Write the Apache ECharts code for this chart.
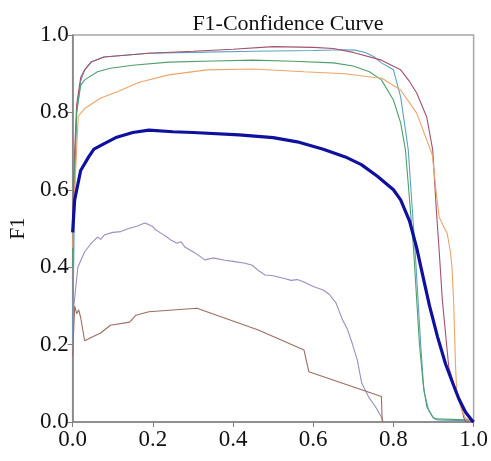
<!DOCTYPE html>
<html><head><meta charset="utf-8">
<script src="https://cdn.jsdelivr.net/npm/echarts@6/dist/echarts.min.js"></script>
<style>html,body{margin:0;padding:0;background:#fff}#c{width:491px;height:461px}</style>
</head><body><div id="c"></div>
<script>
const xTicks = [0, 0.2, 0.4, 0.6, 0.8, 1.0];
const yTicks = [0, 0.2, 0.4, 0.6, 0.8, 1.0];
const names = ['cyan', 'maroon', 'green', 'orange', 'purple', 'brown', 'all classes'];
const colors = ['#5aa2c2', '#a5506c', '#4f9f6c', '#eea468', '#9c8cc0', '#9c6c62', '#10109e'];
const cyanPts = [[0,0.2],[0.005,0.6],[0.01,0.8],[0.02,0.88],[0.03,0.91],[0.046,0.93],[0.078,0.943],[0.19,0.953],[0.3,0.955],[0.45,0.958],[0.6,0.96],[0.68,0.962],[0.705,0.961],[0.73,0.955],[0.753,0.943],[0.77,0.928],[0.8,0.91],[0.818,0.84],[0.83,0.754],[0.837,0.703],[0.854,0.444],[0.868,0.2],[0.876,0.08],[0.888,0.03],[0.9,0.01],[0.91,0.005],[1.0,0.003]];
const maroonPts = [[0,0.5],[0.005,0.7],[0.01,0.82],[0.02,0.89],[0.03,0.91],[0.046,0.93],[0.078,0.943],[0.19,0.953],[0.3,0.958],[0.4,0.963],[0.5,0.97],[0.6,0.968],[0.65,0.965],[0.7,0.955],[0.77,0.935],[0.818,0.91],[0.84,0.88],[0.858,0.85],[0.883,0.788],[0.898,0.703],[0.907,0.548],[0.914,0.444],[0.922,0.315],[0.938,0.142],[0.955,0.083],[0.967,0.057],[0.975,0.013],[0.98,0],[1.0,0]];
const greenPts = [[0,0.4],[0.005,0.65],[0.01,0.8],[0.02,0.87],[0.03,0.884],[0.062,0.905],[0.094,0.914],[0.15,0.922],[0.24,0.93],[0.35,0.933],[0.45,0.935],[0.55,0.932],[0.65,0.928],[0.7,0.92],[0.74,0.905],[0.77,0.884],[0.8,0.832],[0.818,0.773],[0.83,0.703],[0.85,0.45],[0.865,0.2],[0.874,0.1],[0.883,0.04],[0.898,0.013],[0.906,0.008],[1.0,0.005]];
const orangePts = [[0,0.45],[0.005,0.6],[0.014,0.79],[0.03,0.81],[0.07,0.837],[0.11,0.853],[0.166,0.878],[0.24,0.897],[0.335,0.91],[0.45,0.912],[0.577,0.905],[0.68,0.9],[0.753,0.89],[0.77,0.889],[0.818,0.858],[0.858,0.798],[0.883,0.729],[0.897,0.69],[0.906,0.6],[0.914,0.53],[0.925,0.505],[0.934,0.488],[0.942,0.44],[0.946,0.4],[0.95,0.315],[0.955,0.142],[0.958,0.075],[0.97,0.031],[0.98,0.01],[1.0,0]];
const purplePts = [[0,0.17],[0.003,0.3],[0.013,0.4],[0.03,0.44],[0.045,0.46],[0.062,0.478],[0.07,0.472],[0.08,0.484],[0.1,0.49],[0.12,0.492],[0.14,0.5],[0.16,0.506],[0.18,0.514],[0.19,0.51],[0.2,0.505],[0.205,0.498],[0.22,0.488],[0.235,0.478],[0.245,0.47],[0.26,0.462],[0.27,0.466],[0.28,0.452],[0.3,0.44],[0.315,0.43],[0.33,0.419],[0.35,0.424],[0.38,0.418],[0.4,0.415],[0.43,0.41],[0.448,0.405],[0.465,0.39],[0.48,0.38],[0.5,0.378],[0.53,0.37],[0.545,0.366],[0.56,0.368],[0.577,0.362],[0.6,0.35],[0.625,0.341],[0.64,0.33],[0.657,0.307],[0.673,0.264],[0.685,0.24],[0.697,0.204],[0.71,0.16],[0.721,0.1],[0.738,0.065],[0.755,0.04],[0.77,0.013],[0.775,0]];
const brownPts = [[0,0.17],[0.005,0.3],[0.01,0.28],[0.015,0.29],[0.02,0.27],[0.03,0.21],[0.05,0.22],[0.07,0.23],[0.094,0.25],[0.142,0.258],[0.158,0.276],[0.19,0.285],[0.31,0.294],[0.463,0.238],[0.577,0.186],[0.589,0.13],[0.77,0.066],[0.772,0]];
const allPts = [[0,0.49],[0.005,0.574],[0.02,0.65],[0.04,0.685],[0.053,0.705],[0.08,0.72],[0.11,0.736],[0.15,0.748],[0.19,0.754],[0.25,0.75],[0.3,0.748],[0.415,0.742],[0.5,0.735],[0.56,0.724],[0.625,0.705],[0.68,0.685],[0.72,0.665],[0.76,0.635],[0.8,0.6],[0.818,0.574],[0.84,0.52],[0.858,0.45],[0.875,0.37],[0.89,0.3],[0.91,0.22],[0.93,0.15],[0.95,0.095],[0.963,0.06],[0.98,0.025],[0.995,0.005],[1.0,0]];

const seriesPts = [cyanPts, maroonPts, greenPts, orangePts, purplePts, brownPts, allPts];
const font = 'Liberation Serif, Times New Roman, serif';
const chart = echarts.init(document.getElementById('c'), null, {renderer: 'canvas'});
chart.setOption({
  animation: false,
  backgroundColor: '#fff',
  title: {text: 'F1-Confidence Curve', left: 283, top: 8, textAlign: 'center',
    textStyle: {fontFamily: font, fontSize: 22, fontWeight: 'normal', color: '#111'}},
  grid: {left: 61, right: 16, top: 35, bottom: 39, show: true, borderColor: '#a8a8a8', borderWidth: 1.5},
  xAxis: {type: 'value', min: 0, max: 1, interval: 0.2,
    axisLine: {show: true, lineStyle: {color: '#808080', width: 1.5}},
    axisTick: {show: true, length: 5, lineStyle: {color: '#808080'}},
    splitLine: {show: false},
    axisLabel: {fontFamily: font, fontSize: 23, color: '#111', margin: 6,
      formatter: v => v.toFixed(1)}},
  yAxis: {type: 'value', min: 0, max: 1, interval: 0.2, name: 'F1', nameLocation: 'middle', nameGap: 35,
    nameTextStyle: {fontFamily: font, fontSize: 21, color: '#111'},
    axisLine: {show: true, lineStyle: {color: '#808080', width: 1.5}},
    axisTick: {show: true, length: 5, lineStyle: {color: '#808080'}},
    splitLine: {show: false},
    axisLabel: {fontFamily: font, fontSize: 23, color: '#111', margin: 4,
      formatter: v => v.toFixed(1)}},
  series: seriesPts.map((pts, i) => ({
    name: names[i], type: 'line', data: pts, showSymbol: false, symbol: 'none',
    lineStyle: {color: colors[i], width: i === 6 ? 3.2 : 1.1},
    z: i === 6 ? 10 : 2
  }))
});
</script></body></html>
